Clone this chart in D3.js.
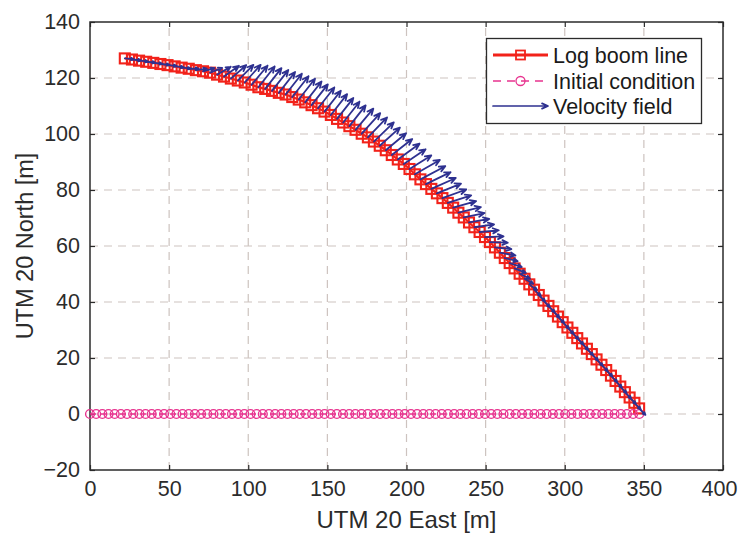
<!DOCTYPE html>
<html>
<head>
<meta charset="utf-8">
<script src="https://cdn.jsdelivr.net/npm/d3@7"></script>
<style>
  html, body { margin: 0; padding: 0; background: #fff; }
  svg { display: block; font-family: "Liberation Sans", Arial, sans-serif; }
</style>
</head>
<body>
<svg id="chart" width="738" height="534"></svg>
<script>
// Log boom node positions (UTM 20, metres)
const boomEast = [22,26.5,31.0,35.5,40.0,44.5,49.0,53.5,57.9,62.4,66.9,71.4,75.9,80.3,84.7,89.0,93.4,97.8,102.1,106.4,110.7,115.0,119.3,123.6,127.8,131.9,136.0,140.0,144.1,148.2,152.2,156.1,160.0,163.9,167.8,171.7,175.6,179.4,183.1,186.9,190.7,194.5,198.3,201.9,205.3,208.8,212.3,215.7,219.2,222.7,226.1,229.5,232.8,236.2,239.5,242.9,246.2,249.6,252.7,255.9,259.0,262.1,265.2,268.3,271.5,274.6,277.6,280.6,283.6,286.6,289.7,292.7,295.7,298.7,301.7,304.8,307.9,310.9,314.0,317.1,320.1,323.2,326.2,329.2,332.1,335.1,338.0,341.0,344.0,347.0];
const boomNorth = [127,126.6,126.2,125.8,125.4,125.0,124.6,124.15,123.7,123.3,122.8,122.4,121.9,121.2,120.5,119.8,119.1,118.4,117.6,116.7,116.1,115.4,114.7,114.1,113.2,112.3,111.3,110.3,109.2,108.0,106.8,105.4,104.1,102.8,101.5,100.1,98.8,97.3,95.8,94.2,92.5,90.9,89.3,87.5,85.6,83.8,82.1,80.4,78.8,77.1,75.4,73.7,71.9,70.2,68.4,66.7,65.0,63.2,61.4,59.5,57.6,55.7,53.9,52.0,50.1,48.3,46.3,44.4,42.5,40.5,38.6,36.7,34.8,32.8,30.9,29.0,27.1,25.2,23.3,21.4,19.5,17.6,15.7,13.7,11.8,9.8,7.8,5.9,4.0,2.0];

// Velocity field at each node (east / north components, as drawn)
const velU = [5.67,5.67,5.67,5.67,5.67,5.67,5.67,5.67,5.67,6.33,6.89,7.34,7.63,8.63,9.40,9.72,9.85,10.01,10.07,10.29,10.29,10.29,10.29,10.29,10.29,10.29,10.29,10.29,10.29,10.29,10.29,10.29,10.29,10.29,11.24,11.68,12.13,12.57,12.71,12.82,12.90,13.74,13.76,13.75,15.77,15.69,15.56,15.42,15.24,15.03,14.78,14.50,14.21,13.11,12.78,12.43,12.09,11.72,11.29,10.35,9.86,8.11,7.61,7.10,6.57,5.48,4.86,4.23,3.96,3.96,3.96,3.96,3.96,3.96,3.96,3.96,3.96,3.96,3.96,3.96,3.96,3.96,3.96,3.96,3.96,3.96,3.96,3.96,3.96,3.96];
const velV = [-0.28,-0.28,-0.28,-0.28,-0.28,-0.28,-0.28,-0.28,-0.28,0,0.55,1.11,1.74,2.81,3.86,4.77,5.56,6.28,6.78,7.43,7.43,7.43,7.43,7.43,7.43,7.43,7.43,7.43,7.43,7.43,7.43,7.43,7.43,7.43,7.56,7.33,7.10,6.84,6.46,6.07,5.69,5.64,5.23,4.84,5.14,4.70,4.28,3.88,3.48,3.08,2.70,2.35,2.00,1.58,1.27,0.99,0.60,0.23,-0.23,-0.62,-0.99,-1.14,-1.40,-1.62,-1.80,-1.79,-1.99,-2.15,-2.31,-2.31,-2.31,-2.31,-2.31,-2.31,-2.31,-2.31,-2.31,-2.31,-2.31,-2.31,-2.31,-2.31,-2.31,-2.31,-2.31,-2.31,-2.31,-2.31,-2.31,-2.31];

// Initial straight-line condition along the northing origin
const initialEast = [0,3.9,7.8,11.7,15.6,19.5,23.4,27.3,31.2,35.1,39,42.9,46.8,50.7,54.6,58.5,62.4,66.3,70.2,74.1,78,81.9,85.8,89.7,93.6,97.5,101.4,105.3,109.2,113.1,117,120.9,124.8,128.7,132.6,136.5,140.4,144.3,148.2,152.1,156,159.9,163.8,167.7,171.6,175.5,179.4,183.3,187.2,191.1,195,198.9,202.8,206.7,210.6,214.5,218.4,222.3,226.2,230.1,234,237.9,241.8,245.7,249.6,253.5,257.4,261.3,265.2,269.1,273,276.9,280.8,284.7,288.6,292.5,296.4,300.3,304.2,308.1,312,315.9,319.8,323.7,327.6,331.5,335.4,339.3,343.2,347.1];
const initialNorth = 0;

const xTicks = [0,50,100,150,200,250,300,350,400];
const yTicks = [-20,0,20,40,60,80,100,120,140];
const legendLabels = ["Log boom line", "Initial condition", "Velocity field"];
const xLabel = "UTM 20 East [m]";
const yLabel = "UTM 20 North [m]";

const C = { boom: "#f2221a", init: "#e8338f", vel: "#2e3190", axis: "#2b2b2b", grid: "#cdc3bf" };

const margin = { left: 90, right: 15, top: 22, bottom: 64 };
const W = 738, H = 534;
const svg = d3.select("#chart");

const x = d3.scaleLinear().domain([0, 400]).range([margin.left, W - margin.right]);
const y = d3.scaleLinear().domain([-20, 140]).range([H - margin.bottom, margin.top]);

// grid
const grid = svg.append("g").attr("stroke", C.grid).attr("stroke-width", 1.2).attr("stroke-dasharray", "8,6");
xTicks.slice(1, -1).forEach(t => grid.append("line").attr("x1", x(t)).attr("x2", x(t)).attr("y1", y(-20)).attr("y2", y(140)));
yTicks.slice(1, -1).forEach(t => grid.append("line").attr("y1", y(t)).attr("y2", y(t)).attr("x1", x(0)).attr("x2", x(400)));

// axes with inward ticks on all four sides
const fs = 21.5;
function styleAxis(g) {
  g.select(".domain").remove();
  g.selectAll(".tick line").attr("stroke", C.axis).attr("stroke-width", 1.2);
  g.selectAll(".tick text").attr("fill", C.axis).style("font-size", fs + "px");
}
const xAxisG = svg.append("g").attr("transform", `translate(0,${y(-20)})`)
  .call(d3.axisBottom(x).tickValues(xTicks).tickSize(-5).tickPadding(11)).call(styleAxis);
// keep the rightmost label inside the canvas
xAxisG.selectAll(".tick text").filter(d => d === 400).attr("dx", -4);
svg.append("g").attr("transform", `translate(0,${y(140)})`)
  .call(d3.axisTop(x).tickValues(xTicks).tickSize(-5).tickFormat("")).call(styleAxis);
svg.append("g").attr("transform", `translate(${x(0)},0)`)
  .call(d3.axisLeft(y).tickValues(yTicks).tickSize(-5).tickPadding(10)).call(styleAxis);
svg.append("g").attr("transform", `translate(${x(400)},0)`)
  .call(d3.axisRight(y).tickValues(yTicks).tickSize(-5).tickFormat("")).call(styleAxis);

svg.append("rect").attr("x", x(0)).attr("y", y(140)).attr("width", x(400) - x(0)).attr("height", y(-20) - y(140))
  .attr("fill", "none").attr("stroke", C.axis).attr("stroke-width", 1.5);

// axis titles
svg.append("text").attr("x", (x(0) + x(400)) / 2).attr("y", 528).attr("text-anchor", "middle")
  .attr("fill", C.axis).style("font-size", "24px").text(xLabel);
svg.append("text").attr("transform", `translate(33,${(y(-20) + y(140)) / 2}) rotate(-90)`).attr("text-anchor", "middle")
  .attr("fill", C.axis).style("font-size", "23.5px").text(yLabel);

const plot = svg.append("g");
const boom = boomEast.map((e, i) => [e, boomNorth[i]]);

// log boom line
plot.append("path").datum(boom)
  .attr("d", d3.line().x(d => x(d[0])).y(d => y(d[1])))
  .attr("fill", "none").attr("stroke", C.boom).attr("stroke-width", 2.2);
const sq = 10;
plot.append("g").selectAll("rect").data(boom).join("rect")
  .attr("x", d => x(d[0]) - sq / 2).attr("y", d => y(d[1]) - sq / 2)
  .attr("width", sq).attr("height", sq)
  .attr("fill", "none").attr("stroke", C.boom).attr("stroke-width", 2.1);

// initial condition
plot.append("path").datum(initialEast)
  .attr("d", d3.line().x(d => x(d)).y(() => y(initialNorth)))
  .attr("fill", "none").attr("stroke", C.init).attr("stroke-width", 1.3).attr("stroke-dasharray", "6,4");
plot.append("g").selectAll("circle").data(initialEast).join("circle")
  .attr("cx", d => x(d)).attr("cy", y(initialNorth)).attr("r", 4.4)
  .attr("fill", "none").attr("stroke", C.init).attr("stroke-width", 1.4);

// velocity field (quiver)
function arrow(g, x0, y0, x1, y1, color, w) {
  const dx = x1 - x0, dy = y1 - y0, L = Math.hypot(dx, dy);
  if (L < 0.1) return;
  const a = Math.atan2(dy, dx), h = Math.min(0.33 * L, 6.5), s = 0.42;
  const p = `M${x0},${y0}L${x1},${y1}M${x1 - h * Math.cos(a - s)},${y1 - h * Math.sin(a - s)}L${x1},${y1}L${x1 - h * Math.cos(a + s)},${y1 - h * Math.sin(a + s)}`;
  g.append("path").attr("d", p).attr("fill", "none").attr("stroke", color).attr("stroke-width", w)
    .attr("stroke-linejoin", "round").attr("stroke-linecap", "round");
}
const q = plot.append("g");
boom.forEach((d, i) => arrow(q, x(d[0]), y(d[1]), x(d[0] + velU[i]), y(d[1] + velV[i]), C.vel, 1.8));

// legend
const lg = svg.append("g");
lg.append("rect").attr("x", 486.5).attr("y", 38.5).attr("width", 215).attr("height", 85)
  .attr("fill", "#fff").attr("stroke", C.axis).attr("stroke-width", 1.3);
const rows = [55, 81, 106];
const sx0 = 493, sx1 = 548, sxm = (sx0 + sx1) / 2;
lg.append("line").attr("x1", sx0).attr("x2", sx1).attr("y1", rows[0]).attr("y2", rows[0]).attr("stroke", C.boom).attr("stroke-width", 2.8);
lg.append("rect").attr("x", sxm - 4.5).attr("y", rows[0] - 4.5).attr("width", 9).attr("height", 9).attr("fill", "none").attr("stroke", C.boom).attr("stroke-width", 1.8);
lg.append("line").attr("x1", sx0).attr("x2", sx1).attr("y1", rows[1]).attr("y2", rows[1]).attr("stroke", C.init).attr("stroke-width", 1.4).attr("stroke-dasharray", "8,6");
lg.append("circle").attr("cx", sxm).attr("cy", rows[1]).attr("r", 4.5).attr("fill", "none").attr("stroke", C.init).attr("stroke-width", 1.3);
arrow(lg, sx0, rows[2], sx1, rows[2], C.vel, 1.7);
legendLabels.forEach((t, i) => lg.append("text").attr("x", 553).attr("y", rows[i]).attr("dy", "0.35em")
  .attr("fill", "#1a1a1a").style("font-size", "21.5px").text(t));
</script>
</body>
</html>
